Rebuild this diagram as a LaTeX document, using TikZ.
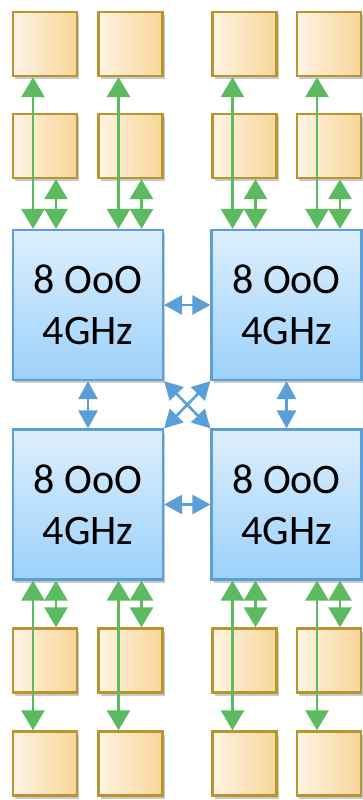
\documentclass[tikz,border=0pt]{standalone}
\usepackage{fontspec}
\setmainfont{Carlito}
\usetikzlibrary{arrows.meta,shadows}
\definecolor{obord}{HTML}{B8952F}
\definecolor{oleft}{HTML}{FFF4E4}
\definecolor{oright}{HTML}{F8D597}
\definecolor{btop}{HTML}{DDEFFD}
\definecolor{bbot}{HTML}{9CD1FB}
\definecolor{bbord}{HTML}{5A9FD8}
\definecolor{garr}{HTML}{5CBA60}
\definecolor{barr}{HTML}{5A9FD8}
\tikzset{
  mem/.style={draw=obord, line width=2.4pt, left color=oleft, right color=oright,
    minimum width=64pt, minimum height=64pt, inner sep=0pt,
    drop shadow={shadow xshift=2pt, shadow yshift=-3pt, opacity=0.35, fill=black!60}},
  core/.style={draw=bbord, line width=2.2pt, top color=btop, bottom color=bbot,
    minimum width=150pt, minimum height=150pt, inner sep=0pt, align=center,
    font=\fontsize{42pt}{51pt}\selectfont,
    drop shadow={shadow xshift=2pt, shadow yshift=-3pt, opacity=0.35, fill=black!60}},
  garrow/.style={draw=garr, line width=2.8pt, {Triangle[width=23pt,length=20pt]}-{Triangle[width=23pt,length=20pt]}},
  barrow/.style={draw=barr, line width=2.6pt, {Triangle[width=19pt,length=18pt]}-{Triangle[width=19pt,length=18pt]}},
}
\begin{document}
\begin{tikzpicture}[x=1pt,y=-1pt]
\useasboundingbox (0,0) rectangle (362,800);
% cores
\node[core] (tl) at (88,305) {8 OoO\\4GHz};
\node[core] (tr) at (286.5,305) {8 OoO\\4GHz};
\node[core] (bl) at (88,504.5) {8 OoO\\4GHz};
\node[core] (br) at (286.5,504.5) {8 OoO\\4GHz};
% memory boxes
\foreach \n/\x in {a/45,b/130.5,c/244.5,d/329} {
  \node[mem] (\n1) at (\x,44) {};
  \node[mem] (\n2) at (\x,146) {};
  \node[mem] (\n3) at (\x,660.5) {};
  \node[mem] (\n4) at (\x,763.5) {};
}
% green arrows top
\foreach \n/\c in {a/tl,b/tl,c/tr,d/tr} {
  \draw[garrow] ([xshift=-12pt]\n1.south) -- ([xshift=-12pt]\n1.south |- \c.north);
  \draw[garrow] ([xshift=11pt]\n2.south) -- ([xshift=11pt]\n2.south |- \c.north);
}
% green arrows bottom
\foreach \n/\c in {a/bl,b/bl,c/br,d/br} {
  \draw[garrow] ([xshift=-12pt]\n4.north) -- ([xshift=-12pt]\n4.north |- \c.south);
  \draw[garrow] ([xshift=11pt]\n3.north) -- ([xshift=11pt]\n3.north |- \c.south);
}
% blue arrows
\draw[barrow] (tl.east) -- (tr.west);
\draw[barrow] (bl.east) -- (br.west);
\draw[barrow] (tl.south) -- (bl.north);
\draw[barrow] (tr.south) -- (br.north);
\draw[barrow] (tl.south east) -- (br.north west);
\draw[barrow] (tr.south west) -- (bl.north east);
\end{tikzpicture}
\end{document}
